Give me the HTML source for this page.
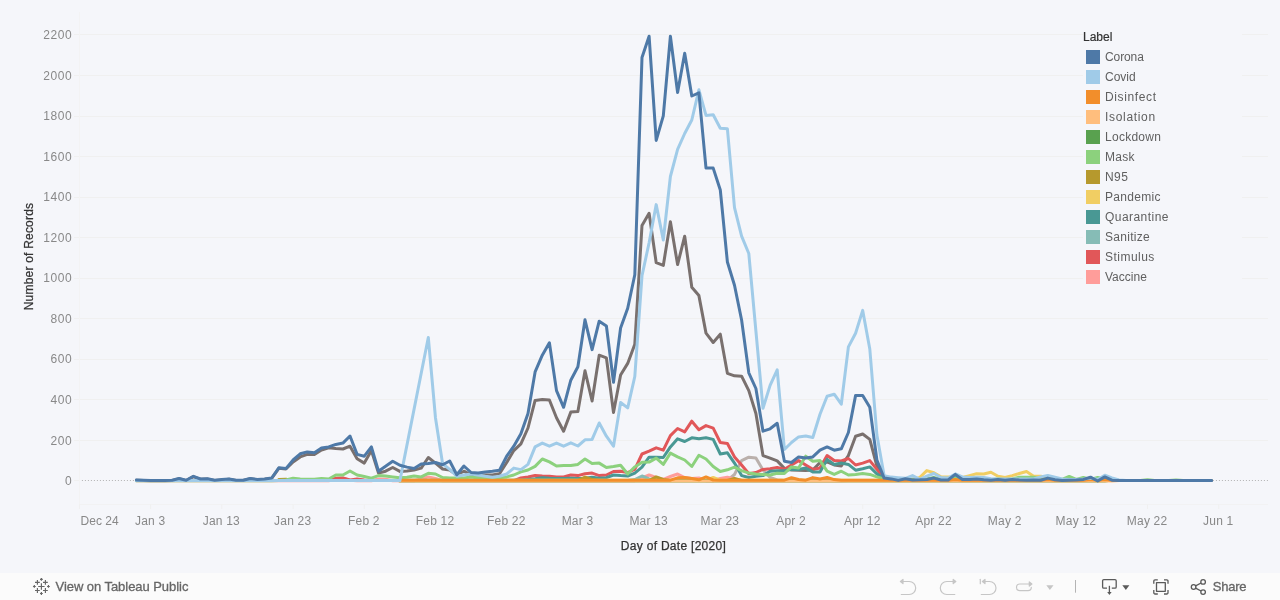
<!DOCTYPE html>
<html><head><meta charset="utf-8"><title>Tableau</title>
<style>
html,body{margin:0;padding:0}
body{width:1280px;height:600px;overflow:hidden;background:#f5f6fa;font-family:"Liberation Sans",sans-serif;position:relative}
.yl{position:absolute;left:20.2px;width:52px;letter-spacing:0.55px;text-align:right;font-size:12px;line-height:15px;color:#888}
.xl{position:absolute;top:514px;letter-spacing:0.2px;width:60px;text-align:center;font-size:12px;line-height:15px;color:#888;white-space:nowrap}
#ytitle{-webkit-text-stroke:0.25px #333;position:absolute;left:-31px;top:249px;letter-spacing:0.21px;width:120px;height:15px;text-align:center;font-size:12px;line-height:15px;color:#333;transform:rotate(-90deg);white-space:nowrap}
#xtitle{-webkit-text-stroke:0.25px #333;position:absolute;left:573.5px;top:539px;letter-spacing:0.29px;width:200px;text-align:center;font-size:12px;line-height:15px;color:#333}
#legend{position:absolute;left:1083px;top:22px;width:159px;height:280px;background:#f5f6fa}
#legend .ttl{-webkit-text-stroke:0.2px #333;position:absolute;left:0px;top:8px;font-size:12px;line-height:15px;color:#333}
.li{position:absolute;left:3px;height:20px;width:150px}
.sw{position:absolute;left:0;top:3px;width:14px;height:14px}
.lt{position:absolute;left:19px;top:3px;font-size:12px;line-height:15px;color:#606060;white-space:nowrap}
#bar{position:absolute;left:0;top:573px;width:1280px;height:27px;background:#fbfbfb}
#vtp{position:absolute;left:55.5px;top:6px;letter-spacing:-0.05px;font-size:13px;line-height:15px;color:#666;white-space:nowrap;-webkit-text-stroke:0.3px #666}
#share{position:absolute;left:1212.7px;top:6px;letter-spacing:-0.2px;font-size:13px;line-height:15px;color:#666;-webkit-text-stroke:0.3px #666}
</style></head><body>
<svg id="chart" width="1280" height="573" viewBox="0 0 1280 573" style="position:absolute;left:0;top:0">
<line x1="74" x2="1268" y1="440.50" y2="440.50" stroke="#f0f0f0" stroke-width="1"/>
<line x1="74" x2="1268" y1="399.50" y2="399.50" stroke="#f0f0f0" stroke-width="1"/>
<line x1="74" x2="1268" y1="359.50" y2="359.50" stroke="#f0f0f0" stroke-width="1"/>
<line x1="74" x2="1268" y1="318.50" y2="318.50" stroke="#f0f0f0" stroke-width="1"/>
<line x1="74" x2="1268" y1="278.50" y2="278.50" stroke="#f0f0f0" stroke-width="1"/>
<line x1="74" x2="1268" y1="237.50" y2="237.50" stroke="#f0f0f0" stroke-width="1"/>
<line x1="74" x2="1268" y1="197.50" y2="197.50" stroke="#f0f0f0" stroke-width="1"/>
<line x1="74" x2="1268" y1="156.50" y2="156.50" stroke="#f0f0f0" stroke-width="1"/>
<line x1="74" x2="1268" y1="116.50" y2="116.50" stroke="#f0f0f0" stroke-width="1"/>
<line x1="74" x2="1268" y1="75.50" y2="75.50" stroke="#f0f0f0" stroke-width="1"/>
<line x1="74" x2="1268" y1="34.50" y2="34.50" stroke="#f0f0f0" stroke-width="1"/>
<line x1="78.9" x2="1268" y1="480.50" y2="480.50" stroke="#b2b2b2" stroke-width="1" stroke-dasharray="1 2"/>
<line x1="79.5" x2="79.5" y1="12" y2="504.5" stroke="#f3f3f4" stroke-width="1"/>
<line x1="79" x2="1268" y1="504.5" y2="504.5" stroke="#f2f2f3" stroke-width="1"/>
<line x1="74" x2="79" y1="480.5" y2="480.5" stroke="#f0f0f0" stroke-width="1"/>
<line x1="79.4" x2="79.4" y1="504.5" y2="509" stroke="#f0f0f0" stroke-width="1"/>
<line x1="150.6" x2="150.6" y1="504.5" y2="509" stroke="#f0f0f0" stroke-width="1"/>
<line x1="221.8" x2="221.8" y1="504.5" y2="509" stroke="#f0f0f0" stroke-width="1"/>
<line x1="293.1" x2="293.1" y1="504.5" y2="509" stroke="#f0f0f0" stroke-width="1"/>
<line x1="364.3" x2="364.3" y1="504.5" y2="509" stroke="#f0f0f0" stroke-width="1"/>
<line x1="435.5" x2="435.5" y1="504.5" y2="509" stroke="#f0f0f0" stroke-width="1"/>
<line x1="506.7" x2="506.7" y1="504.5" y2="509" stroke="#f0f0f0" stroke-width="1"/>
<line x1="577.9" x2="577.9" y1="504.5" y2="509" stroke="#f0f0f0" stroke-width="1"/>
<line x1="649.1" x2="649.1" y1="504.5" y2="509" stroke="#f0f0f0" stroke-width="1"/>
<line x1="720.3" x2="720.3" y1="504.5" y2="509" stroke="#f0f0f0" stroke-width="1"/>
<line x1="791.5" x2="791.5" y1="504.5" y2="509" stroke="#f0f0f0" stroke-width="1"/>
<line x1="862.7" x2="862.7" y1="504.5" y2="509" stroke="#f0f0f0" stroke-width="1"/>
<line x1="933.9" x2="933.9" y1="504.5" y2="509" stroke="#f0f0f0" stroke-width="1"/>
<line x1="1005.1" x2="1005.1" y1="504.5" y2="509" stroke="#f0f0f0" stroke-width="1"/>
<line x1="1076.3" x2="1076.3" y1="504.5" y2="509" stroke="#f0f0f0" stroke-width="1"/>
<line x1="1147.5" x2="1147.5" y1="504.5" y2="509" stroke="#f0f0f0" stroke-width="1"/>
<line x1="1218.7" x2="1218.7" y1="504.5" y2="509" stroke="#f0f0f0" stroke-width="1"/>
<g fill="none" stroke-width="3.0" stroke-linejoin="round" stroke-linecap="round">
<path d="M399.9 480.6 L407.0 480.6 L414.1 480.6 L421.2 480.6 L428.3 480.6 L435.5 480.6 L442.6 480.6 L449.7 480.6 L456.8 480.6 L463.9 480.6 L471.1 480.6 L478.2 480.6 L485.3 480.6 L492.4 480.6 L499.5 480.6 L506.7 480.6 L513.8 480.6 L520.9 480.6 L528.0 480.6 L535.1 480.6 L542.3 480.6 L549.4 480.6 L556.5 480.6 L563.6 480.6 L570.8 480.6 L577.9 480.6 L585.0 480.6 L592.1 480.6 L599.2 480.6 L606.4 480.6 L613.5 480.6 L620.6 480.6 L627.7 480.6 L634.8 480.6 L642.0 480.6 L649.1 480.6 L656.2 480.6 L663.3 480.6 L670.4 480.6 L677.6 480.6 L684.7 480.6 L691.8 480.6 L698.9 480.6 L706.0 480.6 L713.2 480.6 L720.3 480.6 L727.4 480.5 L734.5 474.5 L741.6 460.6 L748.8 457.2 L755.9 458.1 L763.0 470.0 L770.1 477.5 L777.2 480.0 L784.4 480.6 L791.5 480.6 L798.6 480.6 L805.7 480.6 L812.8 480.6 L820.0 480.6 L827.1 480.6 L834.2 480.6 L841.3 480.6 L848.4 480.6 L855.6 480.6 L862.7 480.6 L869.8 480.6 L876.9 480.6 L884.1 480.6 L891.2 480.6 L898.3 480.6 L905.4 480.6 L912.5 480.6 L919.7 480.6 L926.8 480.6 L933.9 480.6 L941.0 480.6 L948.1 480.6 L955.3 480.6 L962.4 480.6 L969.5 480.6 L976.6 480.6 L983.7 480.6 L990.9 480.6 L998.0 480.6 L1005.1 480.6 L1012.2 480.6 L1019.3 480.6 L1026.5 480.6 L1033.6 480.6 L1040.7 480.6 L1047.8 480.6 L1054.9 480.6 L1062.1 480.6 L1069.2 480.6 L1076.3 480.6 L1083.4 480.6 L1090.5 480.6 L1097.7 480.6 L1104.8 480.6 L1111.9 480.6 L1119.0 480.6 L1126.1 480.6 L1133.3 480.6 L1140.4 480.6 L1147.5 480.6 L1154.6 480.6 L1161.8 480.6 L1168.9 480.6 L1176.0 480.6 L1183.1 480.6 L1190.2 480.6 L1197.4 480.6 L1204.5 480.6 L1211.6 480.6" stroke="#bab0ac"/>
<path d="M136.4 480.3 L143.5 480.6 L150.6 480.8 L157.8 480.8 L164.9 480.8 L172.0 480.6 L179.1 478.8 L186.2 480.6 L193.4 476.6 L200.5 479.3 L207.6 479.1 L214.7 480.5 L221.8 479.9 L229.0 479.3 L236.1 480.5 L243.2 480.5 L250.3 478.8 L257.4 479.7 L264.6 479.3 L271.7 478.3 L278.8 468.3 L285.9 469.0 L293.1 461.9 L300.2 456.9 L307.3 454.4 L314.4 454.4 L321.5 450.0 L328.7 447.8 L335.8 448.5 L342.9 449.0 L350.0 446.2 L357.1 458.8 L364.3 463.1 L371.4 450.6 L378.5 473.1 L385.6 471.2 L392.7 467.5 L399.9 471.4 L407.0 471.0 L414.1 470.0 L421.2 468.1 L428.3 457.5 L435.5 463.1 L442.6 469.0 L449.7 470.0 L456.8 475.0 L463.9 471.2 L471.1 474.8 L478.2 475.0 L485.3 475.0 L492.4 475.0 L499.5 473.8 L506.7 462.5 L513.8 450.6 L520.9 443.8 L528.0 428.0 L535.1 400.4 L542.3 399.6 L549.4 400.0 L556.5 417.7 L563.6 431.2 L570.8 412.1 L577.9 411.5 L585.0 370.8 L592.1 401.0 L599.2 355.2 L606.4 357.9 L613.5 412.5 L620.6 375.0 L627.7 363.4 L634.8 344.2 L642.0 225.4 L649.1 213.3 L656.2 262.7 L663.3 265.4 L670.4 221.7 L677.6 264.6 L684.7 236.2 L691.8 287.3 L698.9 295.6 L706.0 333.1 L713.2 342.5 L720.3 334.2 L727.4 373.3 L734.5 375.8 L741.6 376.2 L748.8 390.6 L755.9 413.5 L763.0 455.6 L770.1 458.1 L777.2 460.9 L784.4 468.4 L791.5 470.0 L798.6 470.2 L805.7 470.6 L812.8 470.0 L820.0 462.5 L827.1 461.9 L834.2 465.0 L841.3 466.0 L848.4 455.6 L855.6 436.2 L862.7 434.0 L869.8 439.4 L876.9 466.2 L884.1 478.3 L891.2 480.6 L898.3 480.6 L905.4 480.6 L912.5 480.6 L919.7 480.6 L926.8 480.6 L933.9 480.6 L941.0 480.6 L948.1 480.6 L955.3 480.6 L962.4 480.6 L969.5 480.6 L976.6 480.6 L983.7 480.6 L990.9 480.6 L998.0 480.6 L1005.1 480.6 L1012.2 480.6 L1019.3 480.6 L1026.5 480.6 L1033.6 480.6 L1040.7 480.6 L1047.8 480.6 L1054.9 480.6 L1062.1 480.6 L1069.2 480.6 L1076.3 480.6 L1083.4 480.6 L1090.5 480.6 L1097.7 480.6 L1104.8 480.6 L1111.9 480.6 L1119.0 480.6 L1126.1 480.6 L1133.3 480.6 L1140.4 480.6 L1147.5 480.6 L1154.6 480.6 L1161.8 480.6 L1168.9 480.6 L1176.0 480.6 L1183.1 480.6 L1190.2 480.6 L1197.4 480.6 L1204.5 480.6 L1211.6 480.6" stroke="#79706e"/>
<path d="M136.4 480.7 L143.5 480.7 L150.6 480.7 L157.8 480.7 L164.9 480.7 L172.0 480.7 L179.1 480.7 L186.2 480.7 L193.4 480.7 L200.5 480.7 L207.6 480.7 L214.7 480.7 L221.8 480.7 L229.0 480.7 L236.1 480.7 L243.2 480.7 L250.3 480.7 L257.4 480.7 L264.6 480.7 L271.7 480.7 L278.8 480.7 L285.9 480.7 L293.1 480.7 L300.2 480.7 L307.3 480.7 L314.4 480.7 L321.5 480.7 L328.7 480.7 L335.8 478.6 L342.9 478.2 L350.0 480.2 L357.1 480.7 L364.3 480.7 L371.4 480.7 L378.5 479.0 L385.6 479.2 L392.7 480.7 L399.9 480.7 L407.0 480.7 L414.1 480.7 L421.2 479.0 L428.3 476.9 L435.5 478.5 L442.6 480.7 L449.7 480.7 L456.8 480.7 L463.9 480.7 L471.1 480.7 L478.2 480.7 L485.3 480.7 L492.4 480.7 L499.5 480.7 L506.7 480.7 L513.8 480.7 L520.9 480.7 L528.0 480.7 L535.1 480.7 L542.3 480.7 L549.4 480.7 L556.5 480.7 L563.6 480.7 L570.8 480.7 L577.9 480.7 L585.0 480.7 L592.1 480.7 L599.2 480.7 L606.4 480.7 L613.5 480.7 L620.6 480.7 L627.7 480.7 L634.8 480.7 L642.0 478.0 L649.1 475.0 L656.2 477.5 L663.3 479.5 L670.4 476.5 L677.6 474.0 L684.7 477.5 L691.8 478.5 L698.9 478.0 L706.0 480.7 L713.2 480.7 L720.3 478.5 L727.4 477.2 L734.5 479.0 L741.6 480.7 L748.8 480.7 L755.9 480.7 L763.0 480.7 L770.1 480.7 L777.2 480.7 L784.4 480.7 L791.5 480.7 L798.6 480.7 L805.7 480.7 L812.8 480.7 L820.0 480.7 L827.1 480.7 L834.2 480.7 L841.3 480.7 L848.4 480.6 L855.6 480.6 L862.7 480.6 L869.8 480.6 L876.9 480.6 L884.1 480.6 L891.2 480.6 L898.3 480.6 L905.4 480.6 L912.5 480.6 L919.7 480.6 L926.8 480.6 L933.9 480.6 L941.0 480.6 L948.1 480.6 L955.3 480.6 L962.4 480.6 L969.5 480.6 L976.6 480.6 L983.7 480.6 L990.9 480.6 L998.0 480.6 L1005.1 480.6 L1012.2 480.6 L1019.3 480.6 L1026.5 480.6 L1033.6 480.6 L1040.7 480.6 L1047.8 480.6 L1054.9 480.6 L1062.1 480.6 L1069.2 480.6 L1076.3 480.6 L1083.4 480.6 L1090.5 480.6 L1097.7 480.6 L1104.8 480.6 L1111.9 480.6 L1119.0 480.6 L1126.1 480.6 L1133.3 480.6 L1140.4 480.6 L1147.5 480.6 L1154.6 480.6 L1161.8 480.6 L1168.9 480.6 L1176.0 480.6 L1183.1 480.6 L1190.2 480.6 L1197.4 480.6 L1204.5 480.6 L1211.6 480.6" stroke="#ff9d9a"/>
<path d="M136.4 480.6 L143.5 480.6 L150.6 480.6 L157.8 480.6 L164.9 480.6 L172.0 480.6 L179.1 480.6 L186.2 480.6 L193.4 480.6 L200.5 480.6 L207.6 480.6 L214.7 480.6 L221.8 480.6 L229.0 480.6 L236.1 480.6 L243.2 480.6 L250.3 480.6 L257.4 480.6 L264.6 480.6 L271.7 480.6 L278.8 480.6 L285.9 480.6 L293.1 480.6 L300.2 480.6 L307.3 480.6 L314.4 480.6 L321.5 480.6 L328.7 480.6 L335.8 478.3 L342.9 478.0 L350.0 480.0 L357.1 479.0 L364.3 480.0 L371.4 480.6 L378.5 480.6 L385.6 480.6 L392.7 480.6 L399.9 480.6 L407.0 480.6 L414.1 480.6 L421.2 480.6 L428.3 480.6 L435.5 480.6 L442.6 480.6 L449.7 480.6 L456.8 480.6 L463.9 480.6 L471.1 480.6 L478.2 480.6 L485.3 480.6 L492.4 480.6 L499.5 480.6 L506.7 480.6 L513.8 480.6 L520.9 478.0 L528.0 476.9 L535.1 475.6 L542.3 476.0 L549.4 476.2 L556.5 476.9 L563.6 476.9 L570.8 475.0 L577.9 475.6 L585.0 473.8 L592.1 473.1 L599.2 475.6 L606.4 475.0 L613.5 471.5 L620.6 471.2 L627.7 472.5 L634.8 469.4 L642.0 454.0 L649.1 451.2 L656.2 447.8 L663.3 450.2 L670.4 435.6 L677.6 428.5 L684.7 431.9 L691.8 421.2 L698.9 429.8 L706.0 425.6 L713.2 428.1 L720.3 442.5 L727.4 443.5 L734.5 456.9 L741.6 465.0 L748.8 473.8 L755.9 472.5 L763.0 469.4 L770.1 468.8 L777.2 467.5 L784.4 469.3 L791.5 465.0 L798.6 460.6 L805.7 465.0 L812.8 469.4 L820.0 468.1 L827.1 455.6 L834.2 460.6 L841.3 461.0 L848.4 458.5 L855.6 465.0 L862.7 463.1 L869.8 460.6 L876.9 469.4 L884.1 478.5 L891.2 480.6 L898.3 480.6 L905.4 480.6 L912.5 480.6 L919.7 480.6 L926.8 480.6 L933.9 480.6 L941.0 480.6 L948.1 480.6 L955.3 480.6 L962.4 480.6 L969.5 480.6 L976.6 480.6 L983.7 480.6 L990.9 480.6 L998.0 480.6 L1005.1 480.6 L1012.2 480.6 L1019.3 480.6 L1026.5 480.6 L1033.6 480.6 L1040.7 480.6 L1047.8 480.6 L1054.9 480.6 L1062.1 480.6 L1069.2 480.6 L1076.3 480.6 L1083.4 480.6 L1090.5 480.6 L1097.7 480.6 L1104.8 480.6 L1111.9 480.6 L1119.0 480.6 L1126.1 480.6 L1133.3 480.6 L1140.4 480.6 L1147.5 480.6 L1154.6 480.6 L1161.8 480.6 L1168.9 480.6 L1176.0 480.6 L1183.1 480.6 L1190.2 480.6 L1197.4 480.6 L1204.5 480.6 L1211.6 480.6" stroke="#e15759"/>
<path d="M399.9 480.5 L407.0 480.5 L414.1 480.5 L421.2 480.5 L428.3 480.5 L435.5 480.5 L442.6 480.5 L449.7 480.5 L456.8 480.5 L463.9 480.5 L471.1 480.5 L478.2 480.5 L485.3 480.5 L492.4 480.5 L499.5 480.5 L506.7 480.5 L513.8 480.5 L520.9 480.5 L528.0 480.5 L535.1 480.5 L542.3 480.5 L549.4 480.5 L556.5 480.5 L563.6 480.5 L570.8 480.5 L577.9 480.5 L585.0 480.5 L592.1 480.5 L599.2 480.5 L606.4 480.5 L613.5 480.5 L620.6 480.5 L627.7 480.5 L634.8 479.5 L642.0 476.0 L649.1 479.0 L656.2 480.0 L663.3 480.5 L670.4 480.5 L677.6 480.5 L684.7 480.5 L691.8 480.5 L698.9 480.5 L706.0 480.5 L713.2 480.5 L720.3 480.5 L727.4 480.5 L734.5 480.5 L741.6 480.5 L748.8 480.5 L755.9 480.5 L763.0 480.5 L770.1 480.5 L777.2 480.5 L784.4 480.5 L791.5 480.5 L798.6 480.5 L805.7 480.5 L812.8 480.5 L820.0 480.5 L827.1 480.5 L834.2 480.5 L841.3 480.5 L848.4 480.5 L855.6 480.5 L862.7 480.5 L869.8 480.5 L876.9 480.5 L884.1 480.5 L891.2 480.5 L898.3 480.5 L905.4 480.5 L912.5 480.5 L919.7 480.5 L926.8 480.5 L933.9 480.5 L941.0 480.5 L948.1 480.5 L955.3 480.5 L962.4 480.5 L969.5 480.5 L976.6 480.5 L983.7 480.5 L990.9 480.5 L998.0 480.5 L1005.1 480.5 L1012.2 480.5 L1019.3 480.5 L1026.5 480.5 L1033.6 480.5 L1040.7 480.5 L1047.8 480.5 L1054.9 480.5 L1062.1 480.5 L1069.2 480.5 L1076.3 480.5 L1083.4 480.5 L1090.5 480.5 L1097.7 480.5 L1104.8 480.5 L1111.9 480.5 L1119.0 480.5 L1126.1 480.5 L1133.3 480.5 L1140.4 480.5 L1147.5 480.5 L1154.6 480.5 L1161.8 480.5 L1168.9 480.5 L1176.0 480.5 L1183.1 480.5 L1190.2 480.5 L1197.4 480.5 L1204.5 480.5 L1211.6 480.5" stroke="#86bcb6"/>
<path d="M399.9 480.2 L407.0 480.2 L414.1 480.2 L421.2 480.2 L428.3 480.2 L435.5 480.2 L442.6 480.2 L449.7 480.2 L456.8 480.2 L463.9 480.2 L471.1 480.2 L478.2 480.2 L485.3 480.2 L492.4 480.2 L499.5 480.2 L506.7 480.2 L513.8 480.2 L520.9 480.2 L528.0 479.5 L535.1 478.8 L542.3 477.8 L549.4 478.3 L556.5 478.5 L563.6 478.5 L570.8 478.3 L577.9 478.5 L585.0 478.3 L592.1 477.3 L599.2 478.2 L606.4 477.7 L613.5 475.0 L620.6 475.6 L627.7 476.0 L634.8 473.1 L642.0 467.2 L649.1 457.2 L656.2 457.2 L663.3 457.5 L670.4 446.9 L677.6 438.8 L684.7 441.5 L691.8 437.8 L698.9 438.8 L706.0 437.8 L713.2 439.4 L720.3 454.0 L727.4 452.8 L734.5 463.1 L741.6 475.6 L748.8 477.5 L755.9 476.2 L763.0 475.6 L770.1 471.2 L777.2 470.8 L784.4 470.8 L791.5 469.4 L798.6 469.4 L805.7 468.1 L812.8 471.9 L820.0 471.9 L827.1 459.4 L834.2 464.4 L841.3 463.1 L848.4 464.4 L855.6 470.2 L862.7 468.8 L869.8 466.9 L876.9 473.8 L884.1 478.8 L891.2 480.6 L898.3 480.6 L905.4 480.6 L912.5 480.6 L919.7 480.6 L926.8 480.6 L933.9 480.6 L941.0 480.6 L948.1 480.6 L955.3 480.6 L962.4 480.6 L969.5 480.6 L976.6 480.6 L983.7 480.6 L990.9 480.6 L998.0 480.6 L1005.1 480.6 L1012.2 480.6 L1019.3 480.6 L1026.5 480.6 L1033.6 480.6 L1040.7 480.6 L1047.8 480.6 L1054.9 480.6 L1062.1 480.6 L1069.2 480.6 L1076.3 480.6 L1083.4 480.6 L1090.5 480.6 L1097.7 480.6 L1104.8 480.6 L1111.9 480.6 L1119.0 480.6 L1126.1 480.6 L1133.3 480.6 L1140.4 480.6 L1147.5 480.6 L1154.6 480.6 L1161.8 480.6 L1168.9 480.6 L1176.0 480.6 L1183.1 480.6 L1190.2 480.6 L1197.4 480.6 L1204.5 480.6 L1211.6 480.6" stroke="#499894"/>
<path d="M399.9 480.2 L407.0 480.2 L414.1 480.2 L421.2 480.2 L428.3 480.2 L435.5 480.2 L442.6 480.2 L449.7 480.2 L456.8 480.2 L463.9 480.2 L471.1 480.2 L478.2 480.2 L485.3 480.2 L492.4 480.2 L499.5 480.2 L506.7 480.2 L513.8 480.2 L520.9 480.2 L528.0 480.2 L535.1 480.2 L542.3 480.2 L549.4 480.2 L556.5 480.2 L563.6 480.2 L570.8 480.2 L577.9 480.2 L585.0 480.2 L592.1 480.2 L599.2 480.2 L606.4 480.2 L613.5 480.2 L620.6 480.2 L627.7 480.2 L634.8 480.2 L642.0 480.2 L649.1 480.2 L656.2 480.2 L663.3 480.2 L670.4 480.2 L677.6 480.2 L684.7 480.2 L691.8 480.2 L698.9 480.2 L706.0 480.2 L713.2 477.5 L720.3 480.2 L727.4 480.2 L734.5 480.2 L741.6 480.2 L748.8 480.2 L755.9 480.2 L763.0 480.2 L770.1 480.2 L777.2 480.2 L784.4 480.2 L791.5 480.2 L798.6 480.2 L805.7 480.2 L812.8 480.2 L820.0 480.2 L827.1 480.2 L834.2 480.2 L841.3 480.2 L848.4 480.2 L855.6 480.2 L862.7 480.2 L869.8 480.2 L876.9 480.2 L884.1 480.2 L891.2 480.2 L898.3 480.2 L905.4 480.2 L912.5 480.2 L919.7 477.5 L926.8 470.6 L933.9 472.8 L941.0 476.9 L948.1 476.9 L955.3 477.5 L962.4 477.5 L969.5 475.6 L976.6 473.8 L983.7 474.0 L990.9 472.2 L998.0 476.2 L1005.1 477.5 L1012.2 475.6 L1019.3 473.5 L1026.5 471.5 L1033.6 476.2 L1040.7 476.2 L1047.8 477.5 L1054.9 478.5 L1062.1 479.5 L1069.2 480.6 L1076.3 480.6 L1083.4 480.6 L1090.5 480.6 L1097.7 480.6 L1104.8 480.6 L1111.9 480.6 L1119.0 480.6 L1126.1 480.6 L1133.3 480.6 L1140.4 480.6 L1147.5 480.6 L1154.6 480.6 L1161.8 480.6 L1168.9 480.6 L1176.0 480.6 L1183.1 480.6 L1190.2 480.6 L1197.4 480.6 L1204.5 480.6 L1211.6 480.6" stroke="#f1ce63"/>
<path d="M278.8 479.5 L285.9 479.2 L293.1 480.5 L300.2 480.5 L307.3 480.5 L314.4 480.5 L321.5 480.5 L328.7 480.5 L335.8 480.5 L342.9 480.5 L350.0 480.5 L357.1 480.5 L364.3 480.5 L371.4 480.5 L378.5 480.5 L385.6 480.5 L392.7 480.5 L399.9 480.5 L407.0 480.5 L414.1 480.5 L421.2 480.5 L428.3 480.5 L435.5 480.5 L442.6 480.5 L449.7 480.5 L456.8 480.5 L463.9 480.5 L471.1 480.5 L478.2 480.5 L485.3 480.5 L492.4 480.5 L499.5 480.5 L506.7 480.5 L513.8 480.5 L520.9 480.5 L528.0 480.5 L535.1 480.5 L542.3 480.5 L549.4 480.5 L556.5 480.5 L563.6 480.5 L570.8 480.5 L577.9 480.5 L585.0 477.2 L592.1 479.5 L599.2 480.5 L606.4 480.5 L613.5 480.5 L620.6 480.5 L627.7 480.5 L634.8 480.5 L642.0 480.5 L649.1 480.5 L656.2 476.9 L663.3 479.5 L670.4 480.5 L677.6 480.5 L684.7 480.5 L691.8 480.5 L698.9 480.5 L706.0 480.5 L713.2 480.5 L720.3 480.5 L727.4 480.5 L734.5 478.5 L741.6 480.5 L748.8 480.5 L755.9 480.5 L763.0 480.5 L770.1 480.5 L777.2 480.5 L784.4 480.5 L791.5 480.5 L798.6 480.5 L805.7 480.5 L812.8 480.5 L820.0 480.5 L827.1 480.5 L834.2 480.5 L841.3 480.5 L848.4 480.5 L855.6 480.5 L862.7 480.5 L869.8 480.5 L876.9 480.5 L884.1 480.5 L891.2 480.5 L898.3 480.5 L905.4 480.5 L912.5 480.5 L919.7 480.5 L926.8 480.5 L933.9 480.5 L941.0 480.5 L948.1 480.5 L955.3 480.5 L962.4 480.5 L969.5 480.5 L976.6 480.5 L983.7 480.5 L990.9 480.5 L998.0 480.5 L1005.1 480.5 L1012.2 480.5 L1019.3 480.5 L1026.5 480.5 L1033.6 480.5 L1040.7 480.5 L1047.8 480.5 L1054.9 480.5 L1062.1 480.5 L1069.2 480.5 L1076.3 480.5 L1083.4 480.5 L1090.5 480.5 L1097.7 480.5 L1104.8 480.5 L1111.9 480.5 L1119.0 480.5 L1126.1 480.5 L1133.3 480.5 L1140.4 480.5 L1147.5 480.5 L1154.6 480.5 L1161.8 480.5 L1168.9 480.5 L1176.0 480.5 L1183.1 480.5 L1190.2 480.5 L1197.4 480.5 L1204.5 480.5 L1211.6 480.5" stroke="#b6992d"/>
<path d="M136.4 480.7 L143.5 480.7 L150.6 480.7 L157.8 480.7 L164.9 480.7 L172.0 480.7 L179.1 480.7 L186.2 480.7 L193.4 480.7 L200.5 480.7 L207.6 480.7 L214.7 480.7 L221.8 480.7 L229.0 480.7 L236.1 480.7 L243.2 480.7 L250.3 480.7 L257.4 480.7 L264.6 480.7 L271.7 480.7 L278.8 480.5 L285.9 480.0 L293.1 478.3 L300.2 479.0 L307.3 479.2 L314.4 479.2 L321.5 478.4 L328.7 479.0 L335.8 475.0 L342.9 475.0 L350.0 471.0 L357.1 475.0 L364.3 476.5 L371.4 478.1 L378.5 475.6 L385.6 476.0 L392.7 476.9 L399.9 477.8 L407.0 477.2 L414.1 476.0 L421.2 476.9 L428.3 473.3 L435.5 474.0 L442.6 477.5 L449.7 478.1 L456.8 478.0 L463.9 478.0 L471.1 476.9 L478.2 478.0 L485.3 478.0 L492.4 478.0 L499.5 477.8 L506.7 476.9 L513.8 475.0 L520.9 471.9 L528.0 470.0 L535.1 466.4 L542.3 459.0 L549.4 461.9 L556.5 466.0 L563.6 465.6 L570.8 465.6 L577.9 464.4 L585.0 459.0 L592.1 463.5 L599.2 463.1 L606.4 467.5 L613.5 466.5 L620.6 465.2 L627.7 474.0 L634.8 466.9 L642.0 462.2 L649.1 462.1 L656.2 458.1 L663.3 464.4 L670.4 453.1 L677.6 456.9 L684.7 460.0 L691.8 466.5 L698.9 455.2 L706.0 459.0 L713.2 466.5 L720.3 471.5 L727.4 469.8 L734.5 467.2 L741.6 470.6 L748.8 473.1 L755.9 474.0 L763.0 474.4 L770.1 475.0 L777.2 473.3 L784.4 473.5 L791.5 466.9 L798.6 468.1 L805.7 456.2 L812.8 461.2 L820.0 460.6 L827.1 471.2 L834.2 474.4 L841.3 471.2 L848.4 475.0 L855.6 474.4 L862.7 473.5 L869.8 474.4 L876.9 476.9 L884.1 479.0 L891.2 480.0 L898.3 480.0 L905.4 479.5 L912.5 479.0 L919.7 479.5 L926.8 479.0 L933.9 477.5 L941.0 479.5 L948.1 479.5 L955.3 477.5 L962.4 479.0 L969.5 479.5 L976.6 478.5 L983.7 479.5 L990.9 479.5 L998.0 479.0 L1005.1 479.5 L1012.2 479.0 L1019.3 477.2 L1026.5 477.2 L1033.6 477.2 L1040.7 479.0 L1047.8 479.5 L1054.9 479.0 L1062.1 479.5 L1069.2 476.5 L1076.3 479.5 L1083.4 477.5 L1090.5 479.5 L1097.7 477.5 L1104.8 479.0 L1111.9 479.5 L1119.0 480.6 L1126.1 480.6 L1133.3 480.6 L1140.4 480.6 L1147.5 479.8 L1154.6 480.6 L1161.8 480.6 L1168.9 480.6 L1176.0 480.0 L1183.1 480.6 L1190.2 480.6 L1197.4 480.6 L1204.5 480.6 L1211.6 480.6" stroke="#8cd17d"/>
<path d="M399.9 481.0 L407.0 481.0 L414.1 481.0 L421.2 481.0 L428.3 481.0 L435.5 481.0 L442.6 481.0 L449.7 481.0 L456.8 481.0 L463.9 481.0 L471.1 481.0 L478.2 481.0 L485.3 481.0 L492.4 481.0 L499.5 481.0 L506.7 481.0 L513.8 481.0 L520.9 481.0 L528.0 481.0 L535.1 481.0 L542.3 481.0 L549.4 481.0 L556.5 481.0 L563.6 481.0 L570.8 481.0 L577.9 481.0 L585.0 481.0 L592.1 481.0 L599.2 481.0 L606.4 481.0 L613.5 481.0 L620.6 481.0 L627.7 481.0 L634.8 481.0 L642.0 481.0 L649.1 481.0 L656.2 481.0 L663.3 481.0 L670.4 481.0 L677.6 481.0 L684.7 481.0 L691.8 481.0 L698.9 481.0 L706.0 481.0 L713.2 481.0 L720.3 481.0 L727.4 481.0 L734.5 481.0 L741.6 481.0 L748.8 481.0 L755.9 481.0 L763.0 481.0 L770.1 481.0 L777.2 481.0 L784.4 481.0 L791.5 481.0 L798.6 481.0 L805.7 481.0 L812.8 481.0 L820.0 481.0 L827.1 481.0 L834.2 481.0 L841.3 481.0 L848.4 481.0 L855.6 481.0 L862.7 481.0 L869.8 481.0 L876.9 481.0 L884.1 481.0 L891.2 481.0 L898.3 481.0 L905.4 481.0 L912.5 481.0 L919.7 481.0 L926.8 481.0 L933.9 481.0 L941.0 481.0 L948.1 481.0 L955.3 481.0 L962.4 481.0 L969.5 481.0 L976.6 481.0 L983.7 481.0 L990.9 481.0 L998.0 481.0 L1005.1 481.0 L1012.2 481.0 L1019.3 481.0 L1026.5 481.0 L1033.6 481.0 L1040.7 481.0 L1047.8 481.0 L1054.9 481.0 L1062.1 481.0 L1069.2 481.0 L1076.3 481.0 L1083.4 481.0 L1090.5 481.0 L1097.7 481.0 L1104.8 481.0 L1111.9 480.0 L1119.0 480.6 L1126.1 480.6 L1133.3 480.6 L1140.4 480.6 L1147.5 480.6 L1154.6 480.6 L1161.8 480.6 L1168.9 480.6 L1176.0 480.6 L1183.1 480.6 L1190.2 480.6 L1197.4 480.6 L1204.5 480.6 L1211.6 480.6" stroke="#59a14f"/>
<path d="M399.9 481.0 L407.0 481.0 L414.1 481.0 L421.2 481.0 L428.3 481.0 L435.5 481.0 L442.6 481.0 L449.7 481.0 L456.8 481.0 L463.9 481.0 L471.1 481.0 L478.2 481.0 L485.3 481.0 L492.4 481.0 L499.5 481.0 L506.7 481.0 L513.8 481.0 L520.9 481.0 L528.0 481.0 L535.1 481.0 L542.3 481.0 L549.4 481.0 L556.5 481.0 L563.6 481.0 L570.8 481.0 L577.9 481.0 L585.0 481.0 L592.1 481.0 L599.2 481.0 L606.4 481.0 L613.5 481.0 L620.6 481.0 L627.7 481.0 L634.8 481.0 L642.0 481.0 L649.1 481.0 L656.2 481.0 L663.3 481.0 L670.4 481.0 L677.6 481.0 L684.7 481.0 L691.8 481.0 L698.9 481.0 L706.0 481.0 L713.2 481.0 L720.3 481.0 L727.4 481.0 L734.5 481.0 L741.6 481.0 L748.8 481.0 L755.9 481.0 L763.0 481.0 L770.1 481.0 L777.2 481.0 L784.4 481.0 L791.5 481.0 L798.6 481.0 L805.7 481.0 L812.8 481.0 L820.0 481.0 L827.1 481.0 L834.2 481.0 L841.3 481.0 L848.4 481.0 L855.6 481.0 L862.7 481.0 L869.8 481.0 L876.9 481.0 L884.1 481.0 L891.2 481.0 L898.3 481.0 L905.4 481.0 L912.5 481.0 L919.7 481.0 L926.8 481.0 L933.9 481.0 L941.0 481.0 L948.1 481.0 L955.3 481.0 L962.4 481.0 L969.5 481.0 L976.6 481.0 L983.7 481.0 L990.9 481.0 L998.0 481.0 L1005.1 481.0 L1012.2 481.0 L1019.3 481.0 L1026.5 481.0 L1033.6 481.0 L1040.7 481.0 L1047.8 481.0 L1054.9 481.0 L1062.1 481.0 L1069.2 481.0 L1076.3 481.0 L1083.4 481.0 L1090.5 481.0 L1097.7 481.0 L1104.8 481.0 L1111.9 481.0 L1119.0 480.6 L1126.1 480.6 L1133.3 480.6 L1140.4 480.6 L1147.5 480.6 L1154.6 480.6 L1161.8 480.6 L1168.9 480.6 L1176.0 480.6 L1183.1 480.6 L1190.2 480.6 L1197.4 480.6 L1204.5 480.6 L1211.6 480.6" stroke="#ffbe7d"/>
<path d="M399.9 480.2 L407.0 480.2 L414.1 480.2 L421.2 480.2 L428.3 480.2 L435.5 480.2 L442.6 480.2 L449.7 480.2 L456.8 480.2 L463.9 480.2 L471.1 480.2 L478.2 480.2 L485.3 480.2 L492.4 480.2 L499.5 480.2 L506.7 480.2 L513.8 480.2 L520.9 480.2 L528.0 480.2 L535.1 480.2 L542.3 480.2 L549.4 480.2 L556.5 480.2 L563.6 480.2 L570.8 480.2 L577.9 480.2 L585.0 480.2 L592.1 480.2 L599.2 480.2 L606.4 480.2 L613.5 480.2 L620.6 480.2 L627.7 480.2 L634.8 480.2 L642.0 480.2 L649.1 480.2 L656.2 480.2 L663.3 480.2 L670.4 480.2 L677.6 477.8 L684.7 477.5 L691.8 478.5 L698.9 479.8 L706.0 476.9 L713.2 480.0 L720.3 480.2 L727.4 480.2 L734.5 480.2 L741.6 480.2 L748.8 480.2 L755.9 480.2 L763.0 480.2 L770.1 480.2 L777.2 480.2 L784.4 480.2 L791.5 477.7 L798.6 479.5 L805.7 480.2 L812.8 477.6 L820.0 479.0 L827.1 477.5 L834.2 479.6 L841.3 480.2 L848.4 480.2 L855.6 480.2 L862.7 480.2 L869.8 480.2 L876.9 480.2 L884.1 480.2 L891.2 480.2 L898.3 480.2 L905.4 480.2 L912.5 480.2 L919.7 480.2 L926.8 480.2 L933.9 480.2 L941.0 480.2 L948.1 480.2 L955.3 479.4 L962.4 480.2 L969.5 480.2 L976.6 480.2 L983.7 480.2 L990.9 480.2 L998.0 480.2 L1005.1 480.2 L1012.2 480.2 L1019.3 480.2 L1026.5 480.2 L1033.6 480.2 L1040.7 480.2 L1047.8 479.6 L1054.9 480.2 L1062.1 480.2 L1069.2 480.2 L1076.3 480.2 L1083.4 480.2 L1090.5 479.5 L1097.7 480.2 L1104.8 479.4 L1111.9 480.2 L1119.0 480.6 L1126.1 480.6 L1133.3 480.6 L1140.4 480.6 L1147.5 480.6 L1154.6 480.6 L1161.8 480.6 L1168.9 480.6 L1176.0 480.6 L1183.1 480.6 L1190.2 480.6 L1197.4 480.6 L1204.5 480.6 L1211.6 480.6" stroke="#f28e2b"/>
<path d="M136.4 480.6 L143.5 480.6 L150.6 480.6 L157.8 480.6 L164.9 480.6 L172.0 480.6 L179.1 480.6 L186.2 480.6 L193.4 480.6 L200.5 480.6 L207.6 480.6 L214.7 480.6 L221.8 480.6 L229.0 480.6 L236.1 480.6 L243.2 480.6 L250.3 480.6 L257.4 480.6 L264.6 480.6 L271.7 480.6 L278.8 480.6 L285.9 480.6 L293.1 480.6 L300.2 480.6 L307.3 480.6 L314.4 480.6 L321.5 480.6 L328.7 480.6 L335.8 480.6 L342.9 480.6 L350.0 480.6 L357.1 480.6 L364.3 480.6 L371.4 480.6 L378.5 480.6 L385.6 480.6 L392.7 480.6 L399.9 480.6 L428.3 337.5 L435.5 418.0 L442.6 463.8 L449.7 469.4 L456.8 476.2 L463.9 475.0 L471.1 474.0 L478.2 475.0 L485.3 476.2 L492.4 477.2 L499.5 476.2 L506.7 474.0 L513.8 468.1 L520.9 469.6 L528.0 464.4 L535.1 446.9 L542.3 443.1 L549.4 446.2 L556.5 443.1 L563.6 446.2 L570.8 442.8 L577.9 446.0 L585.0 439.8 L592.1 439.4 L599.2 423.0 L606.4 436.2 L613.5 446.2 L620.6 402.5 L627.7 407.9 L634.8 376.5 L642.0 275.8 L649.1 242.7 L656.2 204.6 L663.3 240.0 L670.4 176.5 L677.6 149.4 L684.7 133.5 L691.8 120.0 L698.9 89.8 L706.0 115.4 L713.2 114.8 L720.3 128.3 L727.4 128.8 L734.5 207.7 L741.6 236.2 L748.8 253.5 L755.9 331.0 L763.0 408.3 L770.1 385.4 L777.2 369.8 L784.4 449.5 L791.5 442.5 L798.6 436.9 L805.7 436.0 L812.8 437.5 L820.0 414.2 L827.1 396.2 L834.2 394.2 L841.3 404.2 L848.4 346.9 L855.6 333.3 L862.7 310.4 L869.8 349.0 L876.9 435.0 L884.1 475.6 L891.2 477.1 L898.3 477.7 L905.4 478.3 L912.5 475.6 L919.7 479.4 L926.8 476.2 L933.9 473.5 L941.0 477.5 L948.1 478.0 L955.3 474.0 L962.4 476.9 L969.5 477.5 L976.6 477.2 L983.7 477.5 L990.9 478.8 L998.0 479.0 L1005.1 479.0 L1012.2 479.0 L1019.3 479.0 L1026.5 479.0 L1033.6 479.0 L1040.7 476.9 L1047.8 475.4 L1054.9 477.2 L1062.1 479.0 L1069.2 479.5 L1076.3 479.5 L1083.4 479.0 L1090.5 478.0 L1097.7 479.5 L1104.8 475.2 L1111.9 478.0 L1119.0 480.0 L1126.1 480.6 L1133.3 480.6 L1140.4 480.6 L1147.5 480.6 L1154.6 480.6 L1161.8 480.6 L1168.9 480.6 L1176.0 480.6 L1183.1 480.6 L1190.2 480.6 L1197.4 480.6 L1204.5 480.6 L1211.6 480.6" stroke="#a0cbe8"/>
<path d="M136.4 480.0 L143.5 480.3 L150.6 480.5 L157.8 480.5 L164.9 480.5 L172.0 480.3 L179.1 478.5 L186.2 480.3 L193.4 476.3 L200.5 479.0 L207.6 478.8 L214.7 480.2 L221.8 479.6 L229.0 479.0 L236.1 480.2 L243.2 480.2 L250.3 478.5 L257.4 479.4 L264.6 479.0 L271.7 478.0 L278.8 467.8 L285.9 468.6 L293.1 460.0 L300.2 453.8 L307.3 451.9 L314.4 452.8 L321.5 448.1 L328.7 446.9 L335.8 444.4 L342.9 443.1 L350.0 436.0 L357.1 454.4 L364.3 456.2 L371.4 446.9 L378.5 471.2 L385.6 466.2 L392.7 461.2 L399.9 465.3 L407.0 467.1 L414.1 468.5 L421.2 464.0 L428.3 463.5 L435.5 462.5 L442.6 464.8 L449.7 461.0 L456.8 474.8 L463.9 466.0 L471.1 472.5 L478.2 473.1 L485.3 471.9 L492.4 471.2 L499.5 470.2 L506.7 456.2 L513.8 446.2 L520.9 433.8 L528.0 413.5 L535.1 371.9 L542.3 355.2 L549.4 342.7 L556.5 390.6 L563.6 407.3 L570.8 380.2 L577.9 366.7 L585.0 319.8 L592.1 349.6 L599.2 321.2 L606.4 326.0 L613.5 382.3 L620.6 328.0 L627.7 308.2 L634.8 274.8 L642.0 57.5 L649.1 36.2 L656.2 140.4 L663.3 115.8 L670.4 36.2 L677.6 92.5 L684.7 53.3 L691.8 96.0 L698.9 92.9 L706.0 168.1 L713.2 168.1 L720.3 190.0 L727.4 262.0 L734.5 285.2 L741.6 320.0 L748.8 372.8 L755.9 388.5 L763.0 431.2 L770.1 428.8 L777.2 423.3 L784.4 461.2 L791.5 462.5 L798.6 456.9 L805.7 458.1 L812.8 456.9 L820.0 450.2 L827.1 446.9 L834.2 450.2 L841.3 448.8 L848.4 432.5 L855.6 395.4 L862.7 395.4 L869.8 407.3 L876.9 460.0 L884.1 478.1 L891.2 478.9 L898.3 480.4 L905.4 478.8 L912.5 480.0 L919.7 479.8 L926.8 479.4 L933.9 478.1 L941.0 480.0 L948.1 480.0 L955.3 474.4 L962.4 479.4 L969.5 479.4 L976.6 479.0 L983.7 479.8 L990.9 480.2 L998.0 479.4 L1005.1 480.2 L1012.2 479.4 L1019.3 480.0 L1026.5 480.2 L1033.6 480.0 L1040.7 480.2 L1047.8 478.1 L1054.9 479.8 L1062.1 480.6 L1069.2 480.2 L1076.3 480.0 L1083.4 479.4 L1090.5 477.2 L1097.7 481.0 L1104.8 476.9 L1111.9 480.2 L1119.0 480.6 L1126.1 480.6 L1133.3 480.6 L1140.4 480.6 L1147.5 480.6 L1154.6 480.6 L1161.8 480.6 L1168.9 480.6 L1176.0 480.6 L1183.1 480.6 L1190.2 480.6 L1197.4 480.6 L1204.5 480.6 L1211.6 480.6" stroke="#4e79a7"/>
</g>
</svg>
<div class="yl" style="top:474.0px">0</div><div class="yl" style="top:433.5px">200</div><div class="yl" style="top:392.9px">400</div><div class="yl" style="top:352.4px">600</div><div class="yl" style="top:311.8px">800</div><div class="yl" style="top:271.3px">1000</div><div class="yl" style="top:230.7px">1200</div><div class="yl" style="top:190.2px">1400</div><div class="yl" style="top:149.6px">1600</div><div class="yl" style="top:109.1px">1800</div><div class="yl" style="top:68.5px">2000</div><div class="yl" style="top:28.0px">2200</div><div class="xl" style="left:80.6px;width:40px;text-align:left;letter-spacing:0">Dec 24</div><div class="xl" style="left:120.2px">Jan 3</div><div class="xl" style="left:191.4px">Jan 13</div><div class="xl" style="left:262.7px">Jan 23</div><div class="xl" style="left:333.9px">Feb 2</div><div class="xl" style="left:405.1px">Feb 12</div><div class="xl" style="left:476.3px">Feb 22</div><div class="xl" style="left:547.5px">Mar 3</div><div class="xl" style="left:618.7px">Mar 13</div><div class="xl" style="left:689.9px">Mar 23</div><div class="xl" style="left:761.1px">Apr 2</div><div class="xl" style="left:832.3px">Apr 12</div><div class="xl" style="left:903.5px">Apr 22</div><div class="xl" style="left:974.7px">May 2</div><div class="xl" style="left:1045.9px">May 12</div><div class="xl" style="left:1117.1px">May 22</div><div class="xl" style="left:1188.3px">Jun 1</div>
<div id="ytitle">Number of Records</div>
<div id="xtitle">Day of Date [2020]</div>
<div id="legend"><div class="ttl">Label</div><div class="li" style="top:25px"><span class="sw" style="background:#4e79a7"></span><span class="lt" style="letter-spacing:-0.10px">Corona</span></div><div class="li" style="top:45px"><span class="sw" style="background:#a0cbe8"></span><span class="lt" style="letter-spacing:0.00px">Covid</span></div><div class="li" style="top:65px"><span class="sw" style="background:#f28e2b"></span><span class="lt" style="letter-spacing:0.62px">Disinfect</span></div><div class="li" style="top:85px"><span class="sw" style="background:#ffbe7d"></span><span class="lt" style="letter-spacing:0.68px">Isolation</span></div><div class="li" style="top:105px"><span class="sw" style="background:#59a14f"></span><span class="lt" style="letter-spacing:0.27px">Lockdown</span></div><div class="li" style="top:125px"><span class="sw" style="background:#8cd17d"></span><span class="lt" style="letter-spacing:0.30px">Mask</span></div><div class="li" style="top:145px"><span class="sw" style="background:#b6992d"></span><span class="lt" style="letter-spacing:0.40px">N95</span></div><div class="li" style="top:165px"><span class="sw" style="background:#f1ce63"></span><span class="lt" style="letter-spacing:0.30px">Pandemic</span></div><div class="li" style="top:185px"><span class="sw" style="background:#499894"></span><span class="lt" style="letter-spacing:0.45px">Quarantine</span></div><div class="li" style="top:205px"><span class="sw" style="background:#86bcb6"></span><span class="lt" style="letter-spacing:0.30px">Sanitize</span></div><div class="li" style="top:225px"><span class="sw" style="background:#e15759"></span><span class="lt" style="letter-spacing:0.48px">Stimulus</span></div><div class="li" style="top:245px"><span class="sw" style="background:#ff9d9a"></span><span class="lt" style="letter-spacing:0.00px">Vaccine</span></div></div>
<div id="bar">
<svg width="1280" height="27" viewBox="0 573 1280 27" style="position:absolute;left:0;top:0">

<g fill="none" stroke="#c6c6c6" stroke-width="1.2" stroke-linecap="round" stroke-linejoin="round">
<path d="M901 581.5 H909.2 a6.5 6.5 0 0 1 0 13 H901.3"/>
<path d="M903 579.4 L900.4 581.5 L903 583.6 Z" fill="#c6c6c6"/>
<path d="M955.2 581.5 H946.8 a6.5 6.5 0 0 0 0 13 H954.8"/>
<path d="M953.2 579.4 L955.8 581.5 L953.2 583.6 Z" fill="#c6c6c6"/>
<path d="M980.3 579.3 V583.7"/>
<path d="M982.8 581.5 H989.5 a6.5 6.5 0 0 1 0 13 H981.3"/>
<path d="M985 579.4 L982.4 581.5 L985 583.6 Z" fill="#c6c6c6"/>
<path d="M1031 584 H1019.8 a3.3 3.3 0 0 0 0 6.6 H1028 a3.3 3.3 0 0 0 3.3 -3.3"/>
<path d="M1029.3 581.9 L1031.9 584 L1029.3 586.1 Z" fill="#c6c6c6"/>
</g>
<path d="M1046.3 585.2 H1053.5 L1049.9 589.9 Z" fill="#c6c6c6"/>
<line x1="1075.5" x2="1075.5" y1="580" y2="592.7" stroke="#b4b4b4" stroke-width="1"/>
<g fill="none" stroke="#5a5a5a" stroke-width="1.3" stroke-linejoin="round" stroke-linecap="butt">
<path d="M1107 588.2 H1103.8 a1.2 1.2 0 0 1 -1.2 -1.2 V580.8 a1.2 1.2 0 0 1 1.2 -1.2 H1115 a1.2 1.2 0 0 1 1.2 1.2 V587 a1.2 1.2 0 0 1 -1.2 1.2 H1111.8"/>
<path d="M1109.4 585.8 V593"/>
<path d="M1153.8 583.8 V581 a1.2 1.2 0 0 1 1.2 -1.2 H1157.8 M1164 579.8 H1166.8 a1.2 1.2 0 0 1 1.2 1.2 V583.8 M1168 590 V592.8 a1.2 1.2 0 0 1 -1.2 1.2 H1164 M1157.8 594 H1155 a1.2 1.2 0 0 1 -1.2 -1.2 V590"/>
<rect x="1156.5" y="582.6" width="8.8" height="8.7"/>
<circle cx="1193.6" cy="587" r="2.3"/>
<circle cx="1203.1" cy="581.9" r="2.3"/>
<circle cx="1203.1" cy="592.1" r="2.3"/>
<path d="M1195.6 585.9 L1201.1 583 M1195.6 588.1 L1201.1 591"/>
</g>
<path d="M1107.2 592 H1111.6 L1109.4 594.9 Z" fill="#5a5a5a"/>
<path d="M1122.3 585.2 H1129.4 L1125.85 589.9 Z" fill="#5a5a5a"/>
<g fill="none" stroke="#666" stroke-width="1.15" stroke-linecap="butt">
<path d="M38.2 586.45 H44.6 M41.4 583.25 V589.65"/>
<path d="M35 582.4 H39.8 M37.4 580 V584.8 M43 582.4 H47.8 M45.4 580 V584.8 M35 590.5 H39.8 M37.4 588.1 V592.9 M43 590.5 H47.8 M45.4 588.1 V592.9"/>
<path d="M40 579.4 H42.8 M41.4 578 V580.8 M40 593.5 H42.8 M41.4 592.1 V594.9 M32.95 586.45 H35.75 M34.35 585.05 V587.85 M47.05 586.45 H49.85 M48.45 585.05 V587.85"/>
</g>

</svg>
<div id="vtp">View on Tableau Public</div>
<div id="share">Share</div>
</div>
</body></html>
